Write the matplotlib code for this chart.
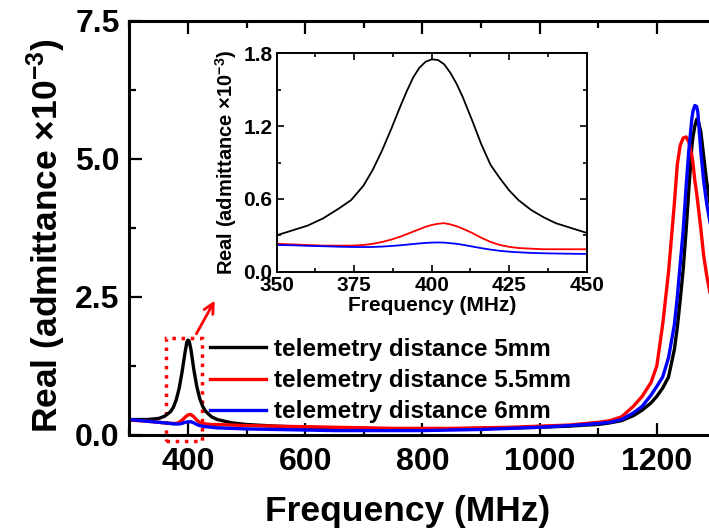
import matplotlib
matplotlib.use('Agg')
import matplotlib.pyplot as plt
from matplotlib.ticker import MultipleLocator, FormatStrFormatter
from matplotlib.patches import Rectangle

plt.rcParams.update({
    'font.family': 'Liberation Sans',
    'font.weight': 'bold',
    'axes.labelweight': 'bold',
    'mathtext.fontset': 'custom',
    'mathtext.rm': 'Liberation Sans:bold',
    'mathtext.it': 'Liberation Sans:bold',
    'mathtext.bf': 'Liberation Sans:bold',
})

# main plot: frequency (MHz) and real admittance (x1e-3)
freq = [300, 330, 350, 360, 370, 375, 380, 385, 390, 395, 398, 400, 402, 405, 410, 415, 420,
        425, 430, 440, 450, 475, 500, 550, 600, 650, 700, 750, 800, 850, 900, 950,
        1000, 1050, 1080, 1100, 1120, 1140, 1160, 1175, 1190, 1200, 1210, 1220, 1230,
        1235, 1240, 1245, 1250, 1255, 1260, 1262, 1265, 1268, 1270, 1275, 1280, 1285, 1290, 1300]
y_5mm = [0.28, 0.28, 0.30, 0.34, 0.42, 0.50, 0.64, 0.85, 1.15, 1.50, 1.68, 1.72, 1.70, 1.55, 1.18, 0.88, 0.66,
         0.52, 0.43, 0.33, 0.28, 0.22, 0.19, 0.16, 0.14, 0.13, 0.12, 0.11, 0.11, 0.11, 0.12, 0.13,
         0.14, 0.16, 0.18, 0.19, 0.22, 0.26, 0.35, 0.45, 0.58, 0.70, 0.85, 1.05, 1.55,
         1.95, 2.45, 3.00, 3.70, 4.50, 5.25, 5.42, 5.60, 5.72, 5.72, 5.50, 5.05, 4.60, 4.25, 3.60]
y_55mm = [0.27, 0.25, 0.23, 0.22, 0.21, 0.21, 0.21, 0.23, 0.27, 0.32, 0.35, 0.36, 0.37, 0.37, 0.33, 0.27, 0.23,
          0.21, 0.20, 0.19, 0.19, 0.18, 0.17, 0.16, 0.15, 0.14, 0.13, 0.12, 0.12, 0.12, 0.13, 0.14,
          0.16, 0.18, 0.21, 0.23, 0.26, 0.33, 0.52, 0.70, 0.95, 1.25, 2.00, 2.95, 4.20,
          4.90, 5.25, 5.38, 5.40, 5.30, 5.05, 4.90, 4.60, 4.38, 4.20, 3.75, 3.25, 2.90, 2.62, 2.20]
y_6mm = [0.28, 0.25, 0.23, 0.22, 0.21, 0.20, 0.20, 0.20, 0.21, 0.23, 0.235, 0.24, 0.24, 0.24, 0.22, 0.19, 0.17,
         0.16, 0.15, 0.14, 0.13, 0.12, 0.11, 0.10, 0.09, 0.08, 0.08, 0.08, 0.08, 0.09, 0.10, 0.12,
         0.14, 0.17, 0.19, 0.21, 0.23, 0.28, 0.40, 0.52, 0.72, 0.88, 1.05, 1.40, 2.00,
         2.50, 3.10, 3.70, 4.50, 5.20, 5.75, 5.88, 5.97, 5.95, 5.85, 5.15, 4.60, 4.20, 3.90, 3.30]

# inset: zoom on the 400 MHz resonance
freq_in = [350, 355, 360, 365, 370, 374, 378, 381, 384, 387, 390, 392, 394, 396, 398, 400,
           402, 404, 406, 408, 410, 413, 416, 419, 422, 425, 428, 432, 436, 440, 445, 450]
in_5mm = [0.30, 0.34, 0.38, 0.44, 0.52, 0.59, 0.71, 0.84, 1.00, 1.18, 1.37, 1.49, 1.60, 1.68, 1.73, 1.75,
          1.745, 1.71, 1.64, 1.55, 1.44, 1.25, 1.05, 0.88, 0.77, 0.67, 0.59, 0.51, 0.45, 0.40, 0.36, 0.32]
in_55mm = [0.23, 0.225, 0.22, 0.215, 0.215, 0.215, 0.22, 0.23, 0.245, 0.265, 0.29, 0.31, 0.33, 0.35, 0.37, 0.385,
           0.395, 0.40, 0.39, 0.375, 0.355, 0.32, 0.28, 0.245, 0.22, 0.205, 0.195, 0.19, 0.185, 0.185, 0.185, 0.185]
in_6mm = [0.22, 0.218, 0.213, 0.21, 0.206, 0.204, 0.203, 0.204, 0.207, 0.212, 0.218, 0.223, 0.228, 0.233, 0.237, 0.24,
          0.241, 0.24, 0.235, 0.23, 0.222, 0.208, 0.194, 0.182, 0.172, 0.165, 0.16, 0.155, 0.152, 0.15, 0.148, 0.146]

labels = ['telemetry distance 5mm', 'telemetry distance 5.5mm', 'telemetry distance 6mm']
colors = ['black', 'red', 'blue']
xticks_main = [400, 600, 800, 1000, 1200]

W, H = 709, 529
fig = plt.figure(figsize=(W / 100, H / 100), dpi=100)

# main axes run past the right edge like the cropped original
ax = fig.add_axes([129.4 / W, 94 / H, 644.6 / W, 414 / H])
for ys, c, lab in zip([y_5mm, y_55mm, y_6mm], colors, labels):
    ax.plot(freq, ys, color=c, lw=2.4, label=lab)

ax.set_xlim(300, 1400)
ax.set_ylim(0, 7.5)
ax.set_xticks(xticks_main)
ax.xaxis.set_minor_locator(MultipleLocator(100))
ax.yaxis.set_major_locator(MultipleLocator(2.5))
ax.yaxis.set_minor_locator(MultipleLocator(1.25))
ax.yaxis.set_major_formatter(FormatStrFormatter('%.1f'))
ax.tick_params(which='both', direction='in', top=True, right=True, width=1.6, labelsize=23)
ax.tick_params(which='major', length=9)
ax.tick_params(which='minor', length=5)
ax.tick_params(axis='y', pad=7)
ax.tick_params(axis='x', pad=9)
for sp in ax.spines.values():
    sp.set_linewidth(2.2)

ax.set_xlabel('Frequency (MHz)', fontsize=25.5)
ax.xaxis.set_label_coords(0.432, -0.145)
ax.set_ylabel('Real (admittance ×10$^{-3}$)', fontsize=25.5)
ax.yaxis.set_label_coords(-0.095, 0.482)

ax.legend(loc='upper left', bbox_to_anchor=(210 / W, 1 - 338 / H), bbox_transform=fig.transFigure,
          frameon=False, fontsize=17.5, handlelength=2.3, handletextpad=0.35,
          labelspacing=0.33, borderpad=0, borderaxespad=0)

# dotted box around the 400 MHz peak and arrow to the inset
ax.add_patch(Rectangle((362, -0.11), 61.4, 1.86, fill=False, ec='red', ls=':', lw=2.5, clip_on=False))
ax.annotate('', xy=(448, 2.48), xytext=(412, 1.79),
            arrowprops=dict(arrowstyle='->', color='red', lw=2, mutation_scale=18),
            annotation_clip=False)

# inset
axin = fig.add_axes([276.7 / W, 1 - 271.7 / H, 310 / W, 218.4 / H])
for ys, c in zip([in_5mm, in_55mm, in_6mm], colors):
    axin.plot(freq_in, ys, color=c, lw=1.3)
axin.set_xlim(350, 450)
axin.set_ylim(0, 1.8)
axin.xaxis.set_major_locator(MultipleLocator(25))
axin.xaxis.set_minor_locator(MultipleLocator(12.5))
axin.yaxis.set_major_locator(MultipleLocator(0.6))
axin.yaxis.set_minor_locator(MultipleLocator(0.3))
axin.yaxis.set_major_formatter(FormatStrFormatter('%.1f'))
axin.tick_params(which='both', direction='in', top=True, right=True, width=1.2, labelsize=15, pad=3)
axin.tick_params(which='major', length=5)
axin.tick_params(which='minor', length=3)
for sp in axin.spines.values():
    sp.set_linewidth(1.4)
axin.set_xlabel('Frequency (MHz)', fontsize=15, labelpad=1)
axin.set_ylabel('Real (admittance ×10$^{-3}$)', fontsize=14.5, labelpad=3)

fig.savefig('out.png', dpi=100)
